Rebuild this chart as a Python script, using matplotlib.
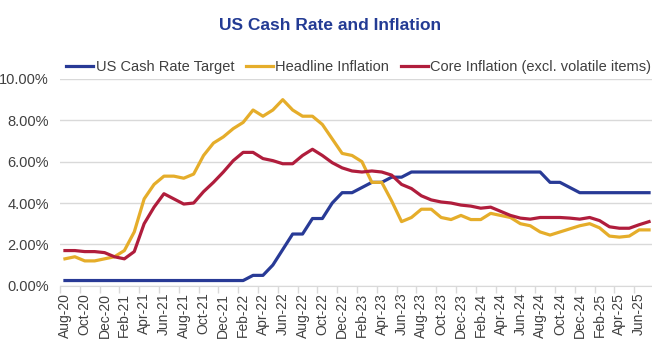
import matplotlib
matplotlib.use("Agg")
import matplotlib.pyplot as plt
from matplotlib.ticker import FuncFormatter, FixedLocator

plt.rcParams['font.family'] = ['Liberation Sans', 'DejaVu Sans']

months = ["Aug-20", "Sep-20", "Oct-20", "Nov-20", "Dec-20", "Jan-21", "Feb-21", "Mar-21",
          "Apr-21", "May-21", "Jun-21", "Jul-21", "Aug-21", "Sep-21", "Oct-21", "Nov-21",
          "Dec-21", "Jan-22", "Feb-22", "Mar-22", "Apr-22", "May-22", "Jun-22", "Jul-22",
          "Aug-22", "Sep-22", "Oct-22", "Nov-22", "Dec-22", "Jan-23", "Feb-23", "Mar-23",
          "Apr-23", "May-23", "Jun-23", "Jul-23", "Aug-23", "Sep-23", "Oct-23", "Nov-23",
          "Dec-23", "Jan-24", "Feb-24", "Mar-24", "Apr-24", "May-24", "Jun-24", "Jul-24",
          "Aug-24", "Sep-24", "Oct-24", "Nov-24", "Dec-24", "Jan-25", "Feb-25", "Mar-25",
          "Apr-25", "May-25", "Jun-25", "Jul-25"]

cash_rate = [0.25, 0.25, 0.25, 0.25, 0.25, 0.25, 0.25, 0.25, 0.25, 0.25, 0.25, 0.25,
             0.25, 0.25, 0.25, 0.25, 0.25, 0.25, 0.25, 0.50, 0.50, 1.00, 1.75, 2.50,
             2.50, 3.25, 3.25, 4.00, 4.50, 4.50, 4.75, 5.00, 5.00, 5.25, 5.25, 5.50,
             5.50, 5.50, 5.50, 5.50, 5.50, 5.50, 5.50, 5.50, 5.50, 5.50, 5.50, 5.50,
             5.50, 5.00, 5.00, 4.75, 4.50, 4.50, 4.50, 4.50, 4.50, 4.50, 4.50, 4.50]

headline = [1.3, 1.4, 1.2, 1.2, 1.3, 1.4, 1.7, 2.6, 4.2, 4.9, 5.3, 5.3,
            5.2, 5.4, 6.3, 6.9, 7.2, 7.6, 7.9, 8.5, 8.2, 8.5, 9.0, 8.5,
            8.2, 8.2, 7.8, 7.1, 6.4, 6.3, 6.0, 5.0, 5.0, 4.1, 3.1, 3.3,
            3.7, 3.7, 3.3, 3.2, 3.4, 3.2, 3.2, 3.5, 3.4, 3.3, 3.0, 2.9,
            2.6, 2.45, 2.6, 2.75, 2.9, 3.0, 2.8, 2.4, 2.35, 2.4, 2.7, 2.7]

core = [1.7, 1.7, 1.65, 1.65, 1.6, 1.4, 1.3, 1.65, 3.0, 3.8, 4.45, 4.2,
        3.95, 4.0, 4.55, 5.0, 5.5, 6.05, 6.45, 6.45, 6.15, 6.05, 5.9, 5.9,
        6.3, 6.6, 6.3, 5.95, 5.7, 5.55, 5.5, 5.55, 5.5, 5.35, 4.9, 4.7,
        4.35, 4.15, 4.05, 4.0, 3.9, 3.85, 3.75, 3.8, 3.6, 3.4, 3.27, 3.22,
        3.3, 3.3, 3.3, 3.27, 3.22, 3.3, 3.15, 2.85, 2.78, 2.78, 2.95, 3.1]

series_names = ["US Cash Rate Target", "Headline Inflation",
                "Core Inflation (excl. volatile items)"]
colors = ["#283A96", "#E5AD2A", "#B01D3C"]

fig = plt.figure(figsize=(6.52, 3.48), dpi=100)
ax = fig.add_axes([60 / 652, 62.3 / 348, 594 / 652, 206.7 / 348])

x = list(range(len(months)))
for vals, name, c in zip([cash_rate, headline, core], series_names, colors):
    ax.plot(x, vals, color=c, lw=2.3, label=name, solid_joinstyle='round')

ax.set_xlim(-0.5, len(months) - 0.5)
ax.set_ylim(0, 10)
ax.set_yticks([0, 2, 4, 6, 8, 10])
ax.yaxis.set_major_formatter(FuncFormatter(lambda v, p: f"{v:.2f}%"))
ax.grid(axis='y', color='#D9D9D9', lw=1)
ax.set_axisbelow(True)

ax.set_xticks(x[::2])
ax.set_xticklabels(months[::2], rotation=90)
ax.xaxis.set_minor_locator(FixedLocator([i - 0.5 for i in x[::2]] + [len(months) - 0.5]))
ax.tick_params(axis='x', which='major', length=0, pad=5, labelsize=10, labelcolor='#404040')
ax.tick_params(axis='x', which='minor', length=5, color='#D9D9D9', width=1)
ax.tick_params(axis='y', length=0, pad=8, labelsize=10.5, labelcolor='#404040')

for s in ['left', 'right', 'top']:
    ax.spines[s].set_visible(False)
ax.spines['bottom'].set_color('#D9D9D9')

fig.text(0.506, 1 - 26 / 348, "US Cash Rate and Inflation", ha='center', va='center',
         fontsize=12.5, fontweight='bold', color='#233B94')

fig.legend(loc='center', bbox_to_anchor=(0.55, 1 - 67 / 348), ncol=3, frameon=False,
           fontsize=10.5, handlelength=1.85, handletextpad=0.15, columnspacing=0.8,
           labelcolor='#404040')

fig.savefig("out.png", dpi=100)
